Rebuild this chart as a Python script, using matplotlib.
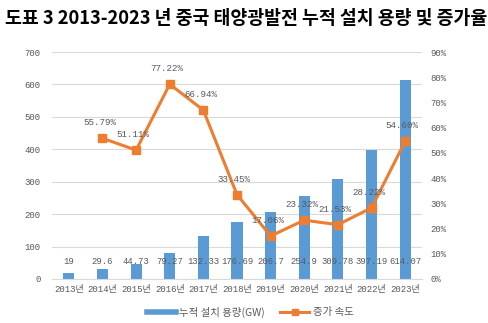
import matplotlib.pyplot as plt
from matplotlib.ticker import FuncFormatter
from matplotlib.lines import Line2D

years = ['2013년', '2014년', '2015년', '2016년', '2017년', '2018년',
         '2019년', '2020년', '2021년', '2022년', '2023년']
capacity = [19, 29.6, 44.73, 79.27, 132.33, 176.69, 206.7, 254.9, 309.78, 397.19, 614.07]
growth = [None, 55.79, 51.11, 77.22, 66.94, 33.45, 17.06, 23.32, 21.53, 28.22, 54.60]

blue = '#5B9BD5'
orange = '#ED7D31'
grey = '#595959'
mono = ['Liberation Mono', 'Noto Sans CJK KR']

fig = plt.figure(figsize=(4.89, 3.23), dpi=100)
ax = fig.add_axes([52 / 489, 1 - 279 / 323, 370 / 489, 227 / 323])
ax2 = ax.twinx()

x = list(range(len(years)))
ax.bar(x, capacity, width=0.33, color=blue, zorder=2)
for i, v in enumerate(capacity):
    ax.annotate(f'{v:g}', xy=(i, 0), xytext=(0, 9), textcoords='offset points',
                ha='center', va='bottom', fontsize=6.4, color=grey, family=mono)

gx = [i for i, g in zip(x, growth) if g is not None]
gy = [g for g in growth if g is not None]
ax2.plot(gx, gy, color=orange, lw=2.2, marker='s', ms=5.5, zorder=3)
for i, g in zip(gx, gy):
    ax2.annotate(f'{g:.2f}%', xy=(i, g), xytext=(-2, 8), textcoords='offset points',
                 ha='center', va='bottom', fontsize=6.6, color=grey, family=mono)

ax.set_xlim(-0.5, len(years) - 0.5)
ax.set_ylim(0, 700)
ax.set_yticks(range(0, 701, 100))
ax2.set_ylim(0, 90)
ax2.set_yticks(range(0, 91, 10))
ax2.yaxis.set_major_formatter(FuncFormatter(lambda v, p: f'{v:.0f}%'))

ax.set_xticks(x)
ax.set_xticklabels(years, family=mono, fontsize=6.5, color=grey)
for lab in ax.get_yticklabels():
    lab.set_family(mono)
for lab in ax2.get_yticklabels():
    lab.set_family(mono)
ax.tick_params(axis='y', labelsize=6.5, labelcolor=grey, length=0, pad=8)
ax2.tick_params(axis='y', labelsize=6.5, labelcolor=grey, length=0, pad=6)
ax.tick_params(axis='x', length=0, pad=4)

ax.grid(axis='y', color='#D9D9D9', lw=0.8, zorder=0)
ax.set_axisbelow(True)
for a in (ax, ax2):
    for s in a.spines.values():
        s.set_visible(False)
ax.spines['bottom'].set_visible(True)
ax.spines['bottom'].set_color('#D9D9D9')

handles = [Line2D([], [], color=blue, lw=4),
           Line2D([], [], color=orange, lw=2.2, marker='s', ms=4)]
fig.legend(handles, ['누적 설치 용량(GW)', '증가 속도'], loc='center',
           bbox_to_anchor=(250 / 489, 1 - 312 / 323),
           ncol=2, frameon=False, prop={'family': 'Noto Sans CJK KR', 'size': 7.5},
           labelcolor=grey, handlelength=2.8, columnspacing=1.5, handletextpad=0.3)

fig.text(5 / 489, 1 - 18 / 323, '도표 3 2013-2023 년 중국 태양광발전 누적 설치 용량 및 증가율',
         fontsize=13.2, fontweight='bold', family='Noto Sans CJK KR', va='center', ha='left')

fig.savefig('out.png', dpi=100)
